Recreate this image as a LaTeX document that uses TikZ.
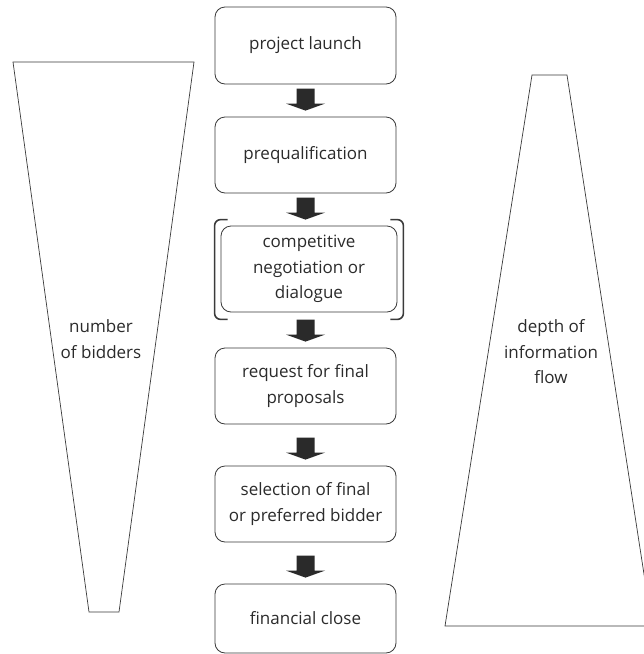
\documentclass[tikz,border=0pt]{standalone}
\usepackage{fontspec}
\setmainfont{Open Sans}
\usetikzlibrary{calc}
\definecolor{linecol}{HTML}{3A3A3A}
\definecolor{txtcol}{HTML}{2B2B2B}
\definecolor{arrcol}{HTML}{2A2A2A}
\tikzset{
  stage/.style={draw=linecol, line width=0.8pt, rounded corners=10pt,
    minimum width=181pt, minimum height=76pt, align=center, text=txtcol,
    font=\fontsize{17}{25.5}\selectfont, inner sep=2pt},
  label/.style={align=center, text=txtcol, font=\fontsize{17}{25.5}\selectfont},
  trap/.style={draw=linecol, line width=0.7pt},
  bracket/.style={draw=linecol, line width=1.6pt, rounded corners=6pt},
  blockarr/.style={fill=arrcol}
}
\newcommand\myarrow[2]{%
  \coordinate (tip) at ($(#2.north -| b1.center)+(0,-6)$);
  \fill[blockarr, shift={(tip)}] (-9,-22) -- (9,-22) -- (9,-7) -- (19.5,-7) -- (0,0) -- (-19.5,-7) -- (-9,-7) -- cycle;}
\begin{document}
\begin{tikzpicture}[x=1pt,y=-1pt]
\clip (0,0) rectangle (644,654);
\fill[white] (0,0) rectangle (644,654);
% funnels
\draw[trap] (13,62) -- (194,62) -- (119,612) -- (89,612) -- cycle;
\draw[trap] (532,75) -- (567,75) -- (652,626) -- (445,626) -- cycle;
\node[label] (nb) at (101,339) {number\\of bidders};
\node[label] (df) at (551,352) {depth of\\information\\flow};
% stages
\node[stage, minimum height=77pt] (b1) at (305.5,45.5) {project launch};
\node[stage] (b2) at (305.5,155) {prequalification};
\node[stage, minimum width=176pt, minimum height=86pt] (b3) at (309,269) {competitive\\negotiation or\\dialogue};
\node[stage] (b4) at (305.5,386) {request for final\\proposals};
\node[stage] (b5) at (305.5,504) {selection of final\\or preferred bidder};
\node[stage, minimum height=69pt] (b6) at (305.5,618.5) {financial close};
% brackets
\draw[bracket] ($(b3.north west)+(7,-6)$) -- ($(b3.north west)+(-6,-6)$) -- ($(b3.south west)+(-6,7)$) -- ($(b3.south west)+(7,7)$);
\draw[bracket] ($(b3.north east)+(-7,-6)$) -- ($(b3.north east)+(6,-6)$) -- ($(b3.south east)+(6,7)$) -- ($(b3.south east)+(-7,7)$);
% arrows
\myarrow{b1}{b2}
\myarrow{b2}{b3}
\myarrow{b3}{b4}
\myarrow{b4}{b5}
\myarrow{b5}{b6}
\end{tikzpicture}
\end{document}
